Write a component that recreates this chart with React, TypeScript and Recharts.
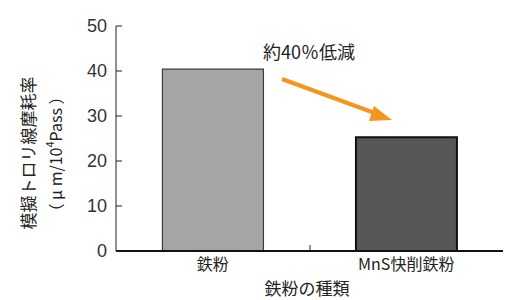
import React from "react";
import { BarChart, Bar, XAxis, YAxis, Cell, Customized } from "recharts";

const categories = ["鉄粉", "MnS快削鉄粉"];
const wearRates = [40.4, 25.3];
const yTicks = [0, 10, 20, 30, 40, 50];
const barFills = ["#a5a5a5", "#565759"];
const barStrokes = ["#3a3a3a", "#111111"];
const annotationText = "約40％低減";

const data = categories.map((name, i) => ({ name, value: wearRates[i] }));

const FONT = "'Liberation Sans', Arial, 'Noto Sans CJK JP', sans-serif";
const JFONT = "'Noto Sans CJK JP', 'Liberation Sans', sans-serif";

const YLabel = () => (
  <g>
    <text
      transform="translate(27,153) rotate(-90)"
      textAnchor="middle"
      dominantBaseline="central"
      fontFamily={JFONT}
      fontSize={17}
      fill="#222"
    >
      模擬トロリ線摩耗率
    </text>
    <text
      transform="translate(55,154) rotate(-90)"
      textAnchor="middle"
      dominantBaseline="central"
      fontFamily={JFONT}
      fontSize={16}
      fill="#222"
    >
      （ μ m/10<tspan dy={-6} fontSize={11}>4</tspan>
      <tspan dy={6}>Pass ）</tspan>
    </text>
  </g>
);

const Annotation = () => (
  <g>
    <text x={263} y={51} fontFamily={JFONT} fontSize={18} fill="#222" dominantBaseline="central">
      {annotationText}
    </text>
    <line x1={282} y1={79} x2={380} y2={115} stroke="#f7941d" strokeWidth={4} />
    <polygon points="392,120 374,106 369,121" fill="#f7941d" />
  </g>
);

const XLabel = () => (
  <text x={307} y={287} textAnchor="middle" dominantBaseline="central" fontFamily={JFONT} fontSize={17} fill="#222">
    鉄粉の種類
  </text>
);

const MidTick = () => (
  <line x1={310} y1={251} x2={310} y2={245} stroke="#222" strokeWidth={1} />
);

export default function App() {
  return (
    <div style={{ position: "absolute", left: 0, top: 0, width: 518, height: 300, background: "#fff" }}>
      <BarChart
        width={518}
        height={300}
        data={data}
        margin={{ top: 26, right: 15, bottom: 0, left: 0 }}
        barCategoryGap="24%"
      >
        <XAxis
          dataKey="name"
          height={49}
          axisLine={{ stroke: "#111", strokeWidth: 2 }}
          tickLine={false}
          tick={{ fontFamily: JFONT, fontSize: 16, fill: "#222" }}
          tickMargin={2}
          interval={0}
        />
        <XAxis xAxisId="top" orientation="top" dataKey="name" height={0} tick={false} tickLine={false} axisLine={{ stroke: "#555", strokeWidth: 1.5 }} />
        <YAxis
          width={116}
          domain={[0, 50]}
          ticks={yTicks}
          interval={0}
          axisLine={{ stroke: "#222", strokeWidth: 1 }}
          tickLine={{ stroke: "#222" }}
          tickSize={-6}
          tickMargin={15}
          tick={{ fontFamily: FONT, fontSize: 18, fill: "#333" }}
        />
        <YAxis yAxisId="right" orientation="right" width={0} domain={[0, 50]} tick={false} tickLine={false} axisLine={{ stroke: "#555", strokeWidth: 1.5 }} />
        <Bar dataKey="value" isAnimationActive={false}>
          {data.map((d, i) => (
            <Cell key={d.name} fill={barFills[i]} stroke={barStrokes[i]} strokeWidth={i === 0 ? 1.2 : 2} />
          ))}
        </Bar>
        <Customized component={YLabel} />
        <Customized component={XLabel} />
        <Customized component={MidTick} />
        <Customized component={Annotation} />
      </BarChart>
    </div>
  );
}
